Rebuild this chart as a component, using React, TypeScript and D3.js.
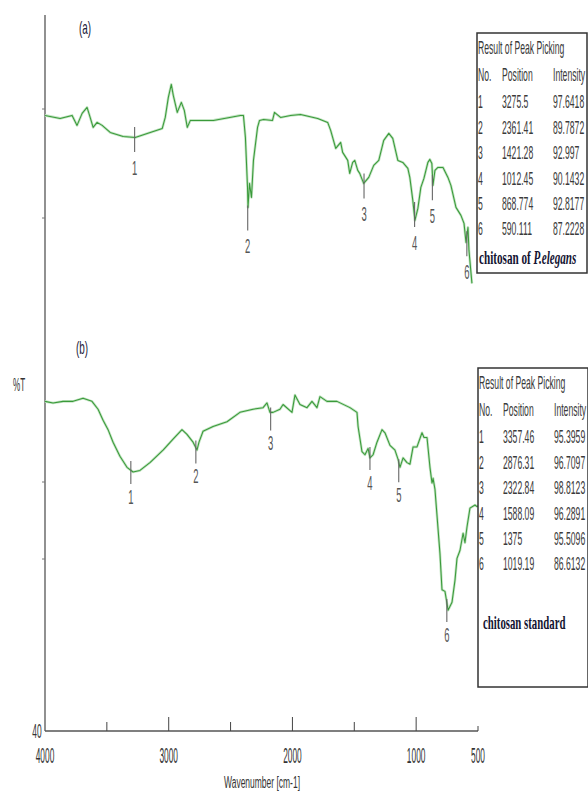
import React from "react";
import * as d3 from "d3";

// ---- data ----
const waveA = [4000,3878,3781,3741,3700,3660,3635,3611,3579,3538,3473,3368,3271,3174,3052,3028,3003,2979,2963,2931,2898,2874,2850,2825,2639,2420,2396,2380,2363,2359,2347,2331,2315,2282,2266,2234,2161,2145,2096,2015,1934,1796,1715,1691,1650,1610,1594,1553,1537,1513,1496,1472,1456,1424,1383,1343,1302,1262,1221,1189,1148,1108,1067,1051,1027,1010,986,962,937,905,889,873,864,848,824,783,743,719,678,638,613,597,581,573,549];
const transA = [99.8,99.5,99.8,98.8,100.0,100.6,99.6,98.6,99.1,98.8,98.1,97.7,97.6,98.0,98.5,99.6,101.6,102.9,101.8,100.1,101.1,100.3,98.6,99.3,99.3,99.8,99.8,97.6,92.6,90.6,93.0,91.6,95.3,98.6,99.3,99.4,99.3,100.1,99.6,99.8,99.9,99.5,99.1,98.3,96.5,97.1,96.1,95.3,94.0,95.1,95.3,94.3,94.0,93.0,93.6,94.8,95.3,97.3,98.0,97.5,95.3,95.1,94.5,93.6,91.3,89.3,90.5,92.6,93.5,95.1,95.4,95.0,92.8,94.3,94.6,94.6,93.6,92.8,90.6,89.8,89.0,87.1,88.6,86.3,83.0];

const waveB = [3993,3933,3859,3785,3711,3645,3600,3563,3526,3489,3438,3386,3341,3290,3216,3119,3045,2979,2942,2897,2868,2853,2823,2749,2646,2550,2453,2379,2350,2328,2305,2254,2231,2165,2143,2106,2054,2017,1980,1958,1906,1832,1736,1684,1676,1647,1625,1602,1588,1565,1536,1499,1477,1440,1403,1380,1366,1343,1314,1292,1269,1240,1203,1188,1166,1144,1129,1121,1107,1070,1055,1033,1010,981,959,944,922,899,885,870,848,811,796,740];
const transB = [99.9,99.8,99.9,99.9,100.1,99.9,99.4,98.7,98.1,97.3,96.4,95.7,95.4,95.5,96.0,96.8,97.5,98.1,97.8,97.3,96.8,97.3,98.0,98.3,98.6,99.2,99.4,99.5,99.8,99.2,99.2,99.4,99.7,99.2,100.3,99.7,99.5,99.9,99.5,100.2,99.9,99.9,99.5,99.2,98.3,96.7,96.5,96.9,96.3,96.5,97.3,98.1,97.9,97.1,96.8,96.2,95.7,96.3,96.0,95.9,97.0,97.0,97.9,97.6,97.6,95.7,94.7,95.0,94.3,90.2,87.9,87.8,86.6,87.1,88.5,89.9,90.4,91.5,90.9,91.9,93.1,93.3,93.2,93.4];

const peakPosA = [3275.5, 2361.41, 1421.28, 1012.45, 868.774, 590.111];
const peakIntA = [97.6418, 89.7872, 92.997, 90.1432, 92.8177, 87.2228];
const peakPosB = [3357.46, 2876.31, 2322.84, 1588.09, 1375, 1019.19];
const peakIntB = [95.3959, 96.7097, 98.8123, 96.2891, 95.5096, 86.6132];

const xTickLabels = [4000, 3000, 2000, 1000, 500];
const xMajorTicks = [3000, 2000, 1000];
const xMinorTicks = [3500, 2500, 1500];

const tableTitle = "Result of Peak Picking";
const tableHeader = ["No.", "Position", "Intensity"];
const sampleA = "chitosan of ";
const sampleAItalic = "P.elegans";
const sampleB = "chitosan standard";

// ---- scales ----
const xA = d3.scaleLinear().domain([4000, 500]).range([45, 478]);
const xB = d3.scaleLinear().domain([4000, 500]).range([44, 517]);
const yA = d3.scaleLinear().domain([100, 87]).range([113.4, 243.4]);
const yB = d3.scaleLinear().domain([100, 86]).range([399.8, 619.6]);

const SANS = "'Liberation Sans', Arial, sans-serif";
const SERIF = "'Liberation Serif', 'Times New Roman', serif";

function CText({ x, y, size, sx, anchor = "start", fill = "#3a3a3a", family = SANS, weight = "normal", children }: any) {
  return (
    <text
      transform={`translate(${x},${y}) scale(${sx},1)`}
      fontSize={size}
      fontFamily={family}
      fontWeight={weight}
      textAnchor={anchor}
      dominantBaseline="central"
      fill={fill}
    >
      {children}
    </text>
  );
}

function Spectrum({ waves, trans, xs, ys }: any) {
  const line = d3
    .line<number>()
    .x((_, i) => xs(waves[i]))
    .y((d) => ys(d))
    .curve(d3.curveLinear);
  const d = line(trans) || "";
  return (
    <g>
      <path d={d} fill="none" stroke="#c4e4c4" strokeWidth={2.6} strokeLinejoin="round" />
      <path d={d} fill="none" stroke="#3a9a3a" strokeWidth={1.05} strokeLinejoin="round" />
    </g>
  );
}

function Peaks({ pos, inten, xs, ys, up, down, lab }: any) {
  return (
    <g>
      {pos.map((p: number, i: number) => {
        const x = xs(p);
        const y = ys(inten[i]);
        return (
          <g key={i}>
            <line x1={x} x2={x} y1={y - up} y2={y + down} stroke="#666" strokeWidth={1.1} />
            <CText x={x} y={y + lab} size={21} sx={0.45} anchor="middle" fill="#555">
              {i + 1}
            </CText>
          </g>
        );
      })}
    </g>
  );
}

function Table({ x, y, w, h, top, pos, inten, sample }: any) {
  const rowY = (i: number) => top + 54 + i * 25.4;
  return (
    <g>
      <rect x={x} y={y} width={w} height={h} fill="#fff" stroke="#333" strokeWidth={1.5} />
      <CText x={x + 1} y={top} size={18} sx={0.48}>{tableTitle}</CText>
      <CText x={x + 1} y={top + 27} size={18} sx={0.48}>{tableHeader[0]}</CText>
      <CText x={x + 25} y={top + 27} size={18} sx={0.48}>{tableHeader[1]}</CText>
      <CText x={x + 76} y={top + 27} size={18} sx={0.48}>{tableHeader[2]}</CText>
      {pos.map((p: number, i: number) => (
        <g key={i}>
          <CText x={x + 1} y={rowY(i)} size={18} sx={0.48}>{i + 1}</CText>
          <CText x={x + 25} y={rowY(i)} size={18} sx={0.48}>{String(p)}</CText>
          <CText x={x + 76} y={rowY(i)} size={18} sx={0.48}>{String(inten[i])}</CText>
        </g>
      ))}
      {sample}
    </g>
  );
}

export default function App() {
  const axisY = 731;
  return (
    <svg
      width={588}
      height={791}
      viewBox="0 0 588 791"
      style={{ position: "absolute", left: 0, top: 0, background: "#fff" }}
    >
      <rect x={0} y={0} width={588} height={791} fill="#fff" />

      {/* left axis */}
      <line x1={45} x2={45} y1={15} y2={axisY} stroke="#555" strokeWidth={1.3} />
      {[109, 218, 482, 559].map((t) => (
        <line key={t} x1={42} x2={45} y1={t} y2={t} stroke="#777" strokeWidth={1} />
      ))}
      {/* bottom axis */}
      <line x1={45} x2={xA(500)} y1={axisY} y2={axisY} stroke="#555" strokeWidth={1.6} />
      {xMajorTicks.map((t) => (
        <line key={t} x1={xA(t)} x2={xA(t)} y1={axisY - 14} y2={axisY} stroke="#444" strokeWidth={1} />
      ))}
      {xMinorTicks.map((t) => (
        <line key={t} x1={xA(t)} x2={xA(t)} y1={axisY - 9} y2={axisY} stroke="#444" strokeWidth={1} />
      ))}
      <line x1={xA(500)} x2={xA(500)} y1={axisY - 5} y2={axisY} stroke="#444" strokeWidth={1} />
      {xTickLabels.map((t) => (
        <CText key={t} x={xA(t)} y={756} size={22} sx={0.38} anchor="middle" fill="#333">
          {t}
        </CText>
      ))}
      <CText x={37} y={731} size={21} sx={0.4} anchor="middle" fill="#333">40</CText>
      <CText x={262} y={782} size={16} sx={0.53} anchor="middle" fill="#333">Wavenumber [cm-1]</CText>
      <CText x={19} y={385} size={18} sx={0.45} anchor="middle" fill="#333">%T</CText>

      <CText x={85} y={28} size={18} sx={0.55} anchor="middle" fill="#1a1a3a">(a)</CText>
      <CText x={82} y={348} size={18} sx={0.55} anchor="middle" fill="#1a1a3a">(b)</CText>

      {/* spectra */}
      <Spectrum waves={waveA} trans={transA} xs={xA} ys={yA} />
      <Spectrum waves={waveB} trans={transB} xs={xB} ys={yB} />

      <Peaks pos={peakPosA} inten={peakIntA} xs={xA} ys={yA} up={10} down={15} lab={30} />
      <Peaks pos={peakPosB} inten={peakIntB} xs={xB} ys={yB} up={11} down={12} lab={24} />

      {/* tables */}
      <Table
        x={477}
        y={33}
        w={110}
        h={240}
        top={48}
        pos={peakPosA}
        inten={peakIntA}
        sample={
          <text
            transform={`translate(479,258) scale(0.62,1)`}
            fontSize={18}
            fontFamily={SERIF}
            fontWeight="bold"
            dominantBaseline="central"
            fill="#141432"
          >
            {sampleA}
            <tspan fontStyle="italic">{sampleAItalic}</tspan>
          </text>
        }
      />
      <Table
        x={478}
        y={368}
        w={110}
        h={319}
        top={383}
        pos={peakPosB}
        inten={peakIntB}
        sample={
          <CText x={483} y={623} size={18} sx={0.6} family={SERIF} weight="bold" fill="#141432">
            {sampleB}
          </CText>
        }
      />
    </svg>
  );
}
